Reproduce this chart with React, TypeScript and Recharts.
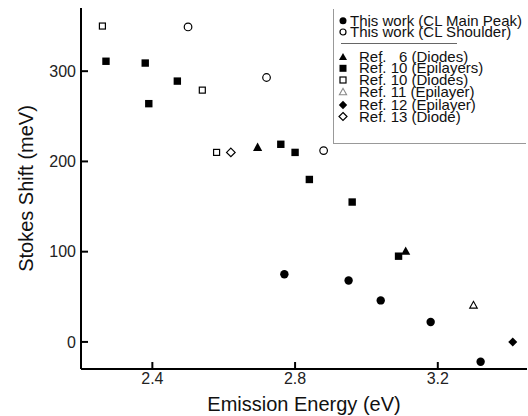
import React from 'react'
import { ScatterChart, Scatter, XAxis, YAxis, Legend } from 'recharts'

// Stokes shift vs emission energy
const MAIN_PEAK_E = [2.77, 2.95, 3.04, 3.18, 3.32]
const MAIN_PEAK_S = [75, 68, 46, 22, -22]

const SHOULDER_E = [2.5, 2.72, 2.88]
const SHOULDER_S = [349, 293, 212]

const REF6_E = [2.695, 3.11]
const REF6_S = [216, 101]

const REF10_EPI_E = [2.27, 2.38, 2.39, 2.47, 2.76, 2.8, 2.84, 2.96, 3.09]
const REF10_EPI_S = [311, 309, 264, 289, 219, 210, 180, 155, 95]

const REF10_DIO_E = [2.26, 2.54, 2.58]
const REF10_DIO_S = [350, 279, 210]

const REF11_E = [3.3]
const REF11_S = [41]

const REF12_E = [3.41]
const REF12_S = [0]

const REF13_E = [2.62]
const REF13_S = [210]

const X_TICKS = [2.4, 2.8, 3.2]
const Y_TICKS = [0, 100, 200, 300]

const FONT = '"Liberation Sans", Arial, Helvetica, sans-serif'

const pts = (xs: number[], ys: number[]) => xs.map((e, i) => ({ e, s: ys[i] }))

type MarkProps = { cx?: number; cy?: number; small?: boolean }

function FilledCircle({ cx = 0, cy = 0, small }: MarkProps) {
  return <circle cx={cx} cy={cy} r={small ? 3.5 : 4.2} fill="#000" />
}
function OpenCircle({ cx = 0, cy = 0, small }: MarkProps) {
  return <circle cx={cx} cy={cy} r={small ? 3 : 3.8} fill="#fff" stroke="#000" strokeWidth={1.2} />
}
function FilledSquare({ cx = 0, cy = 0, small }: MarkProps) {
  const h = small ? 3.5 : 3.7
  return <rect x={cx - h} y={cy - h} width={h * 2} height={h * 2} fill="#000" />
}
function OpenSquare({ cx = 0, cy = 0 }: MarkProps) {
  const h = 3
  return <rect x={cx - h} y={cy - h} width={h * 2} height={h * 2} fill="#fff" stroke="#000" strokeWidth={1.2} />
}
function FilledTriangle({ cx = 0, cy = 0, small }: MarkProps) {
  const h = small ? 4 : 4.6
  return <polygon points={`${cx - h},${cy + h * 0.85} ${cx + h},${cy + h * 0.85} ${cx},${cy - h * 0.95}`} fill="#000" />
}
function OpenTriangle({ cx = 0, cy = 0, small }: MarkProps) {
  const h = small ? 3.6 : 3.8
  return (
    <polygon
      points={`${cx - h},${cy + h * 0.85} ${cx + h},${cy + h * 0.85} ${cx},${cy - h * 0.95}`}
      fill="#fff"
      stroke={small ? '#888' : '#000'}
      strokeWidth={1.1}
    />
  )
}
function FilledDiamond({ cx = 0, cy = 0, small }: MarkProps) {
  const h = small ? 4.2 : 4.5
  return <polygon points={`${cx},${cy - h} ${cx + h},${cy} ${cx},${cy + h} ${cx - h},${cy}`} fill="#000" />
}
function OpenDiamond({ cx = 0, cy = 0, small }: MarkProps) {
  const h = small ? 4 : 4.3
  return (
    <polygon
      points={`${cx},${cy - h} ${cx + h},${cy} ${cx},${cy + h} ${cx - h},${cy}`}
      fill="#fff"
      stroke="#000"
      strokeWidth={1.2}
    />
  )
}

const LEGEND_ROWS = [
  { label: 'This work (CL Main Peak)', Mark: FilledCircle, base: 16.7, tx: 17 },
  { label: 'This work (CL Shoulder)', Mark: OpenCircle, base: 28, tx: 17 },
  { label: 'Ref.\u00a0\u00a0\u00a06 (Diodes)', Mark: FilledTriangle, base: 52.7, tx: 26 },
  { label: 'Ref. 10 (Epilayers)', Mark: FilledSquare, base: 64.3, tx: 26 },
  { label: 'Ref. 10 (Diodes)', Mark: OpenSquare, base: 76, tx: 26 },
  { label: 'Ref. 11 (Epilayer)', Mark: OpenTriangle, base: 87.7, tx: 26 },
  { label: 'Ref. 12 (Epilayer)', Mark: FilledDiamond, base: 101, tx: 26 },
  { label: 'Ref. 13 (Diode)', Mark: OpenDiamond, base: 112.5, tx: 26 },
]

function LegendBox() {
  return (
    <svg width={193} height={135} style={{ display: 'block' }}>
      <rect x={0} y={0} width={193} height={135} fill="#fff" />
      <line x1={0.5} y1={0} x2={0.5} y2={134.5} stroke="#999" strokeWidth={1} />
      <line x1={0} y1={134.5} x2={193} y2={134.5} stroke="#999" strokeWidth={1} />
      <line x1={8} y1={34.5} x2={124} y2={34.5} stroke="#666" strokeWidth={1.2} />
      {LEGEND_ROWS.map(({ label, Mark, base, tx }) => (
        <g key={label}>
          <Mark cx={10} cy={base - 5} small />
          <text x={tx} y={base} fontSize={15} fontFamily={FONT} fill="#111">
            {label}
          </text>
        </g>
      ))}
    </svg>
  )
}

export default function App() {
  const axisLine = { stroke: '#000', strokeWidth: 2 }
  const tickStyle = { fill: '#222', fontSize: 16, fontFamily: FONT }
  return (
    <div style={{ position: 'absolute', left: 0, top: 0, background: '#fff' }}>
      <ScatterChart width={528} height={416} margin={{ top: 8, right: 1, bottom: 0, left: 0 }}>
        <XAxis
          type="number"
          dataKey="e"
          domain={[2.2, 3.45]}
          ticks={X_TICKS}
          tickFormatter={(v: number) => v.toFixed(1)}
          allowDataOverflow
          height={47}
          axisLine={axisLine}
          tickLine={{ stroke: '#000', strokeWidth: 2 }}
          tickSize={-7}
          tickMargin={11}
          tick={tickStyle}
          label={{ value: 'Emission Energy (eV)', position: 'insideBottom', offset: 5, style: { fontSize: 20, fontFamily: FONT, fill: '#111' } }}
        />
        <XAxis
          xAxisId="top"
          orientation="top"
          type="number"
          dataKey="e"
          domain={[2.2, 3.45]}
          height={0}
          tick={false}
          tickLine={false}
          axisLine={axisLine}
        />
        <YAxis
          type="number"
          dataKey="s"
          domain={[-30, 370]}
          ticks={Y_TICKS}
          allowDataOverflow
          width={81}
          axisLine={axisLine}
          tickLine={{ stroke: '#000', strokeWidth: 2 }}
          tickSize={-7}
          tickMargin={12}
          tick={tickStyle}
          label={{ value: 'Stokes Shift (meV)', angle: -90, position: 'insideLeft', offset: 26, style: { textAnchor: 'middle', fontSize: 20, fontFamily: FONT, fill: '#111' } }}
        />
        <YAxis
          yAxisId="right"
          orientation="right"
          type="number"
          dataKey="s"
          domain={[-30, 370]}
          width={0}
          tick={false}
          tickLine={false}
          axisLine={axisLine}
        />
        <Legend
          layout="horizontal"
          verticalAlign="middle"
          align="center"
          content={() => <LegendBox />}
          wrapperStyle={{ left: 333, top: 9, width: 193, height: 135 }}
        />
        <Scatter name="Ref. 10 (Diodes)" data={pts(REF10_DIO_E, REF10_DIO_S)} shape={(p: any) => <OpenSquare cx={p.cx} cy={p.cy} />} isAnimationActive={false} />
        <Scatter name="Ref. 10 (Epilayers)" data={pts(REF10_EPI_E, REF10_EPI_S)} shape={(p: any) => <FilledSquare cx={p.cx} cy={p.cy} />} isAnimationActive={false} />
        <Scatter name="This work (CL Shoulder)" data={pts(SHOULDER_E, SHOULDER_S)} shape={(p: any) => <OpenCircle cx={p.cx} cy={p.cy} />} isAnimationActive={false} />
        <Scatter name="Ref. 6 (Diodes)" data={pts(REF6_E, REF6_S)} shape={(p: any) => <FilledTriangle cx={p.cx} cy={p.cy} />} isAnimationActive={false} />
        <Scatter name="Ref. 13 (Diode)" data={pts(REF13_E, REF13_S)} shape={(p: any) => <OpenDiamond cx={p.cx} cy={p.cy} />} isAnimationActive={false} />
        <Scatter name="Ref. 11 (Epilayer)" data={pts(REF11_E, REF11_S)} shape={(p: any) => <OpenTriangle cx={p.cx} cy={p.cy} />} isAnimationActive={false} />
        <Scatter name="Ref. 12 (Epilayer)" data={pts(REF12_E, REF12_S)} shape={(p: any) => <FilledDiamond cx={p.cx} cy={p.cy} />} isAnimationActive={false} />
        <Scatter name="This work (CL Main Peak)" data={pts(MAIN_PEAK_E, MAIN_PEAK_S)} shape={(p: any) => <FilledCircle cx={p.cx} cy={p.cy} />} isAnimationActive={false} />
      </ScatterChart>
    </div>
  )
}
